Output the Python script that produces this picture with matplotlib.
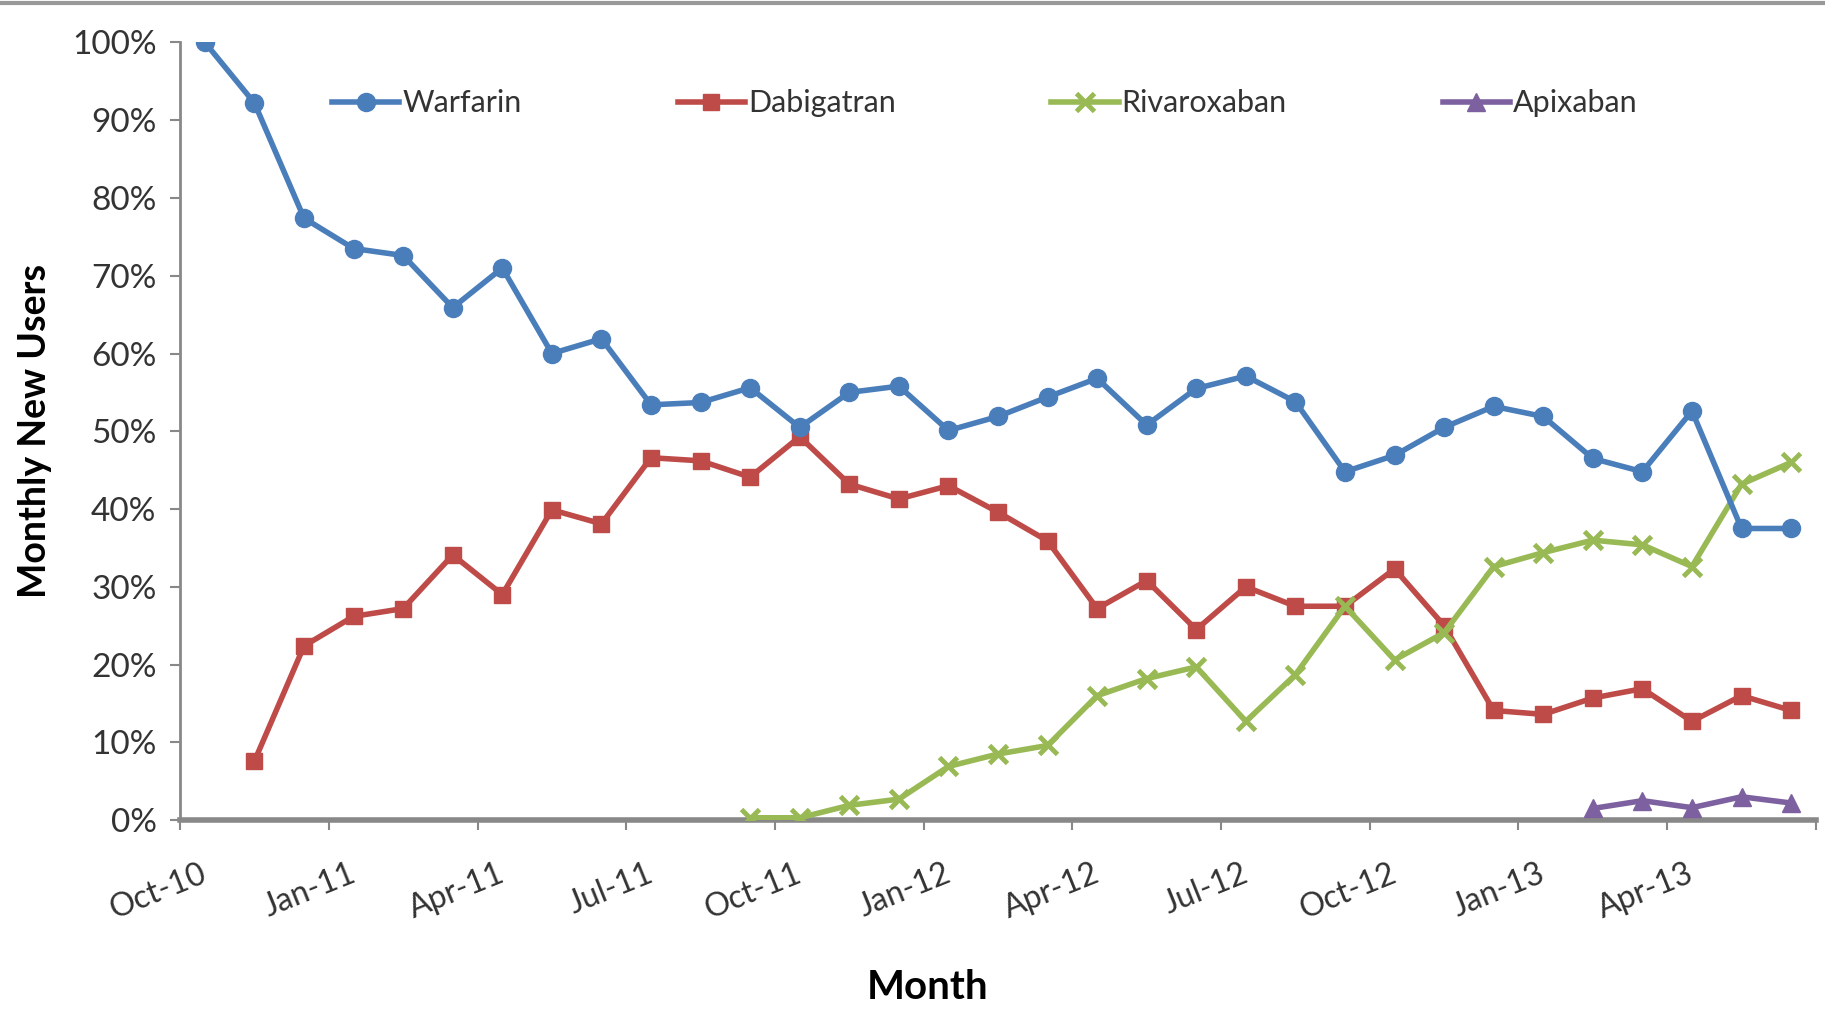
import numpy as np
import matplotlib.pyplot as plt
from matplotlib.lines import Line2D

plt.rcParams['font.family'] = ['Lato', 'DejaVu Sans']

# 月份（33 个类别，Oct-10 到 Jun-13）
months = ['Oct-10', 'Nov-10', 'Dec-10', 'Jan-11', 'Feb-11', 'Mar-11', 'Apr-11', 'May-11', 'Jun-11',
          'Jul-11', 'Aug-11', 'Sep-11', 'Oct-11', 'Nov-11', 'Dec-11', 'Jan-12', 'Feb-12', 'Mar-12',
          'Apr-12', 'May-12', 'Jun-12', 'Jul-12', 'Aug-12', 'Sep-12', 'Oct-12', 'Nov-12', 'Dec-12',
          'Jan-13', 'Feb-13', 'Mar-13', 'Apr-13', 'May-13', 'Jun-13']

warfarin = [100, 92.2, 77.4, 73.5, 72.6, 65.9, 71.0, 60.0, 61.9, 53.4, 53.7, 55.6, 50.5, 55.0, 55.8,
            50.1, 51.9, 54.4, 56.8, 50.8, 55.5, 57.1, 53.8, 44.8, 46.9, 50.5, 53.2, 51.9, 46.5, 44.8,
            52.6, 37.5, 37.5]
dabigatran = [np.nan, 7.6, 22.4, 26.2, 27.2, 34.1, 29.0, 39.9, 38.1, 46.6, 46.2, 44.1, 49.3, 43.2, 41.3,
              43.0, 39.6, 35.9, 27.2, 30.8, 24.5, 30.0, 27.5, 27.5, 32.3, 25.0, 14.1, 13.6, 15.7, 16.9,
              12.7, 16.0, 14.1]
rivaroxaban = [np.nan] * 11 + [0.3, 0.3, 1.9, 2.7, 6.9, 8.5, 9.6, 16.0, 18.2, 19.7, 12.7, 18.7, 27.5,
                               20.6, 24.1, 32.6, 34.4, 36.0, 35.4, 32.6, 43.2, 46.0]
apixaban = [np.nan] * 28 + [1.5, 2.5, 1.6, 3.0, 2.2]

x = np.arange(len(months))

fig = plt.figure(figsize=(18.25, 10.1), dpi=100)
ax = fig.add_axes([0.0987, 0.188, 0.8963, 0.770])

lw = 4
ax.plot(x, np.array(warfarin) / 100, color='#4A7EBB', lw=lw, marker='o', ms=13, label='Warfarin', zorder=4)
ax.plot(x, np.array(dabigatran) / 100, color='#BE4B48', lw=lw, marker='s', ms=12, label='Dabigatran', zorder=3)
ax.plot(x, np.array(rivaroxaban) / 100, color='#98B954', lw=lw, marker='x', ms=13, mew=3.5, label='Rivaroxaban', zorder=3)
ax.plot(x, np.array(apixaban) / 100, color='#7D60A0', lw=lw, marker='^', ms=13, label='Apixaban', zorder=3)

ax.set_xlim(-0.5, len(months) - 0.5)
ax.set_ylim(0, 1)
ax.set_yticks(np.arange(0, 1.01, 0.1))
ax.set_yticklabels([f'{int(round(v * 100))}%' for v in np.arange(0, 1.01, 0.1)], fontsize=24, color='#333333')

# 刻度线在类别之间，标签每 3 个月一个
ax.set_xticks(np.arange(-0.5, len(months), 3))
ax.set_xticklabels([])
for i in range(0, len(months), 3):
    ax.text(i - 0.1, -0.05, months[i], rotation=22, ha='right', va='top', fontsize=23,
            color='#333333', rotation_mode='anchor', transform=ax.get_xaxis_transform())

ax.tick_params(axis='both', length=7, width=1.5, color='#888888')
ax.tick_params(axis='y', pad=10)
for s in ['top', 'right']:
    ax.spines[s].set_visible(False)
ax.spines['left'].set_color('#888888')
ax.spines['left'].set_linewidth(2)
ax.spines['bottom'].set_color('#888888')
ax.spines['bottom'].set_linewidth(4)

ax.set_ylabel('Monthly New Users', fontsize=27, fontweight='bold', labelpad=14)
fig.text(0.508, 0.004, 'Month', fontsize=29, fontweight='bold', ha='center', va='bottom')

ax.legend(loc='upper center', bbox_to_anchor=(0.492, 0.975), ncol=4, frameon=False, fontsize=22,
          handlelength=2.2, handletextpad=0.1, columnspacing=5.1, labelcolor='#333333')

# 顶部边框
fig.add_artist(Line2D([0, 1], [0.997, 0.997], color='#999999', lw=3, transform=fig.transFigure))

plt.savefig('out.png', dpi=100)
